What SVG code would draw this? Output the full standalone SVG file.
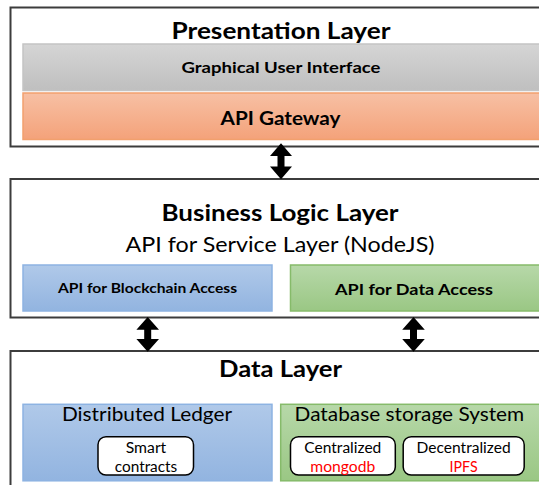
<svg xmlns="http://www.w3.org/2000/svg" width="539" height="485" viewBox="0 0 539 485">
<defs>
<linearGradient id="gGray" x1="0" y1="0" x2="0" y2="1"><stop offset="0" stop-color="#d5d5d5"/><stop offset="1" stop-color="#bfbfbf"/></linearGradient>
<linearGradient id="gOrange" x1="0" y1="0" x2="0" y2="1"><stop offset="0" stop-color="#f7c0a4"/><stop offset="1" stop-color="#f4a27a"/></linearGradient>
<linearGradient id="gBlue" x1="0" y1="0" x2="0" y2="1"><stop offset="0" stop-color="#b0c9e9"/><stop offset="1" stop-color="#92b4e0"/></linearGradient>
<linearGradient id="gGreen" x1="0" y1="0" x2="0" y2="1"><stop offset="0" stop-color="#b7d8a9"/><stop offset="1" stop-color="#9ac784"/></linearGradient>
<style>
.outer{fill:#fff;stroke:#3c3c3c;stroke-width:2}
.gray{fill:url(#gGray);stroke:#c4c4c4;stroke-width:1.5}
.orange{fill:url(#gOrange);stroke:#f2a06e;stroke-width:1.5}
.blue{fill:url(#gBlue);stroke:#8db3e2;stroke-width:1.5}
.green{fill:url(#gGreen);stroke:#86bb6a;stroke-width:1.5}
.pill{fill:#fff;stroke:#000;stroke-width:1.5}
text{font-family:Lato,"Liberation Sans",Arial,sans-serif;fill:#000;text-anchor:middle}
.b{font-weight:bold}
.red{fill:#ff0000}
.arrow{fill:#000}
</style>
</defs>
<g id="presentation-layer">
<rect class="outer" x="10.5" y="7.5" width="540" height="139"/>
<text class="b" x="281" y="38.5" font-size="23" textLength="219" lengthAdjust="spacingAndGlyphs">Presentation Layer</text>
</g>
<g id="gui">
<rect class="gray" x="23" y="44" width="530" height="46.5"/>
<text class="b" x="281" y="72.7" font-size="15.5" textLength="199" lengthAdjust="spacingAndGlyphs">Graphical User Interface</text>
</g>
<g id="api-gateway">
<rect class="orange" x="23" y="93" width="530" height="46.5"/>
<text class="b" x="280.5" y="125" font-size="19.5" textLength="120" lengthAdjust="spacingAndGlyphs">API Gateway</text>
</g>
<g id="business-logic-layer">
<rect class="outer" x="10.5" y="179" width="540" height="138.5"/>
<text class="b" x="280" y="221" font-size="23.5" textLength="237" lengthAdjust="spacingAndGlyphs">Business Logic Layer</text>
<text x="280" y="251.7" font-size="21" textLength="309" lengthAdjust="spacingAndGlyphs">API for Service Layer (NodeJS)</text>
</g>
<g id="api-blockchain">
<rect class="blue" x="23" y="265" width="249" height="46"/>
<text class="b" x="147.5" y="293.3" font-size="14" textLength="179" lengthAdjust="spacingAndGlyphs">API for Blockchain Access</text>
</g>
<g id="api-data">
<rect class="green" x="290.5" y="265" width="262" height="46"/>
<text class="b" x="414" y="295" font-size="15.5" textLength="158" lengthAdjust="spacingAndGlyphs">API for Data Access</text>
</g>
<g id="data-layer">
<rect class="outer" x="10.5" y="351" width="540" height="150"/>
<text class="b" x="280.5" y="376.7" font-size="23" textLength="123" lengthAdjust="spacingAndGlyphs">Data Layer</text>
</g>
<g id="distributed-ledger">
<rect class="blue" x="23" y="404.3" width="249" height="76.5"/>
<text x="147" y="421" font-size="20" textLength="170" lengthAdjust="spacingAndGlyphs">Distributed Ledger</text>
</g>
<g id="smart-contracts">
<rect class="pill" x="98" y="436.7" width="95.5" height="38.3" rx="8"/>
<text x="146" y="452.7" font-size="15.5" textLength="40.5" lengthAdjust="spacingAndGlyphs">Smart</text>
<text x="146" y="471.7" font-size="15.5" textLength="62.5" lengthAdjust="spacingAndGlyphs">contracts</text>
</g>
<g id="database-storage">
<rect class="green" x="280.7" y="404.3" width="272" height="76.5"/>
<text x="409.4" y="421" font-size="20" textLength="229.6" lengthAdjust="spacingAndGlyphs">Database storage System</text>
</g>
<g id="centralized">
<rect class="pill" x="290.5" y="436.7" width="104.8" height="38.3" rx="8"/>
<text x="342.8" y="452.7" font-size="15.5" textLength="77" lengthAdjust="spacingAndGlyphs">Centralized</text>
<text class="red" x="342.8" y="471.7" font-size="15.5" textLength="65" lengthAdjust="spacingAndGlyphs">mongodb</text>
</g>
<g id="decentralized">
<rect class="pill" x="403.2" y="436.7" width="121" height="38.3" rx="8"/>
<text x="463.6" y="452.7" font-size="15.5" textLength="94" lengthAdjust="spacingAndGlyphs">Decentralized</text>
<text class="red" x="463.6" y="471.7" font-size="15.5" textLength="28" lengthAdjust="spacingAndGlyphs">IPFS</text>
</g>
<g id="connectors">
<path class="arrow" d="M281 143.3 L292 156 L284.5 156 L284.5 166.6 L292 166.6 L281 179.3 L270 166.6 L277.5 166.6 L277.5 156 L270 156 Z"/>
<path class="arrow" d="M147.7 317 L159 329.7 L151.2 329.7 L151.2 339 L159 339 L147.7 351.7 L136.4 339 L144.2 339 L144.2 329.7 L136.4 329.7 Z"/>
<path class="arrow" d="M413.5 317 L424.8 329.7 L417 329.7 L417 339 L424.8 339 L413.5 351.7 L402.2 339 L410 339 L410 329.7 L402.2 329.7 Z"/>
</g>
</svg>
